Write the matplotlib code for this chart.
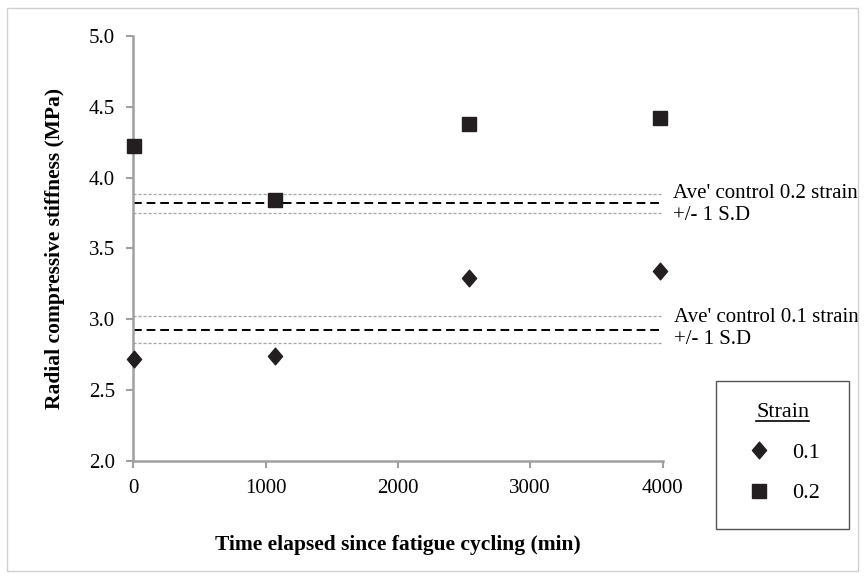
import matplotlib
matplotlib.use("Agg")
import matplotlib.pyplot as plt
from matplotlib.path import Path
from matplotlib.patches import Rectangle
from matplotlib.lines import Line2D

plt.rcParams['font.family'] = ['Liberation Serif', 'DejaVu Serif']

time_min = [5, 1075, 2540, 3980]
strain_01 = [2.72, 2.74, 3.29, 3.34]
strain_02 = [4.22, 3.84, 4.38, 4.42]
ctrl_02 = [3.82, 3.883, 3.753]   # mean, +SD, -SD
ctrl_01 = [2.926, 3.02, 2.83]
xticks = [0, 1000, 2000, 3000, 4000]
yticks = [2.0, 2.5, 3.0, 3.5, 4.0, 4.5, 5.0]

fig = plt.figure(figsize=(8.65, 5.79), dpi=100)
ax = fig.add_axes([0.154, 0.204, 0.612, 0.734])

mk_col = '#231F20'
diamond = Path([(0, 1), (0.85, 0), (0, -1), (-0.85, 0), (0, 1)],
               [Path.MOVETO, Path.LINETO, Path.LINETO, Path.LINETO, Path.CLOSEPOLY])

ax.plot(time_min, strain_01, linestyle='none', marker=diamond, markersize=12,
        color=mk_col, label='0.1', clip_on=False, zorder=5)
ax.plot(time_min, strain_02, linestyle='none', marker='s', markersize=10,
        color=mk_col, label='0.2', clip_on=False, zorder=5)

for c in (ctrl_02, ctrl_01):
    ax.plot([0, 4000], [c[0], c[0]], color='black', lw=1.4, dashes=(4.5, 2.5))
    ax.plot([0, 4000], [c[1], c[1]], color='#A6A6A6', lw=0.9, dashes=(2.5, 1.5))
    ax.plot([0, 4000], [c[2], c[2]], color='#A6A6A6', lw=0.9, dashes=(2.5, 1.5))

fs = 15
ax.text(4075, 3.89, "Ave' control 0.2 strain", fontsize=fs, va='center', ha='left', clip_on=False)
ax.text(4075, 3.73, "+/- 1 S.D", fontsize=fs, va='center', ha='left', clip_on=False)
ax.text(4085, 3.015, "Ave' control 0.1 strain", fontsize=fs, va='center', ha='left', clip_on=False)
ax.text(4085, 2.855, "+/- 1 S.D", fontsize=fs, va='center', ha='left', clip_on=False)

ax.set_xlim(0, 4000)
ax.set_ylim(2.0, 5.0)
ax.set_xticks(xticks)
ax.set_yticks(yticks)
ax.set_yticklabels([f"{v:.1f}" for v in yticks])
ax.tick_params(axis='both', labelsize=fs, color='#A0A0A0', width=1.5, length=5, direction='out')
ax.tick_params(axis='x', pad=8)
ax.tick_params(axis='y', pad=8)
for s in ('top', 'right'):
    ax.spines[s].set_visible(False)
for s in ('left', 'bottom'):
    ax.spines[s].set_color('#A0A0A0')
    ax.spines[s].set_linewidth(1.8)

ax.set_xlabel('Time elapsed since fatigue cycling (min)', fontsize=15.5, fontweight='bold', labelpad=27)
ax.set_ylabel('Radial compressive stiffness (MPa)', fontsize=15.5, fontweight='bold', labelpad=17)

# legend box
box = Rectangle((0.828, 0.086), 0.154, 0.256, transform=fig.transFigure,
                fill=False, edgecolor='#555555', lw=1.0)
fig.add_artist(box)
leg = ax.legend(loc='center', bbox_to_anchor=(0.905, 0.217), bbox_transform=fig.transFigure,
                frameon=False, title='Strain', fontsize=16, title_fontsize=16,
                labelspacing=0.9, handletextpad=0.9, handlelength=1.2)
leg._legend_box.align = 'center'

fig.canvas.draw()
r = fig.canvas.get_renderer()
bb = leg.get_title().get_window_extent(r).transformed(fig.transFigure.inverted())
fig.add_artist(Line2D([bb.x0, bb.x1], [bb.y0 + 0.003, bb.y0 + 0.003], transform=fig.transFigure,
                      color='black', lw=1.2))

# outer border
fig.add_artist(Rectangle((0.008, 0.014), 0.984, 0.972, transform=fig.transFigure,
                         fill=False, edgecolor='#D0D0D0', lw=1.0))

fig.savefig('out.png', dpi=100)
